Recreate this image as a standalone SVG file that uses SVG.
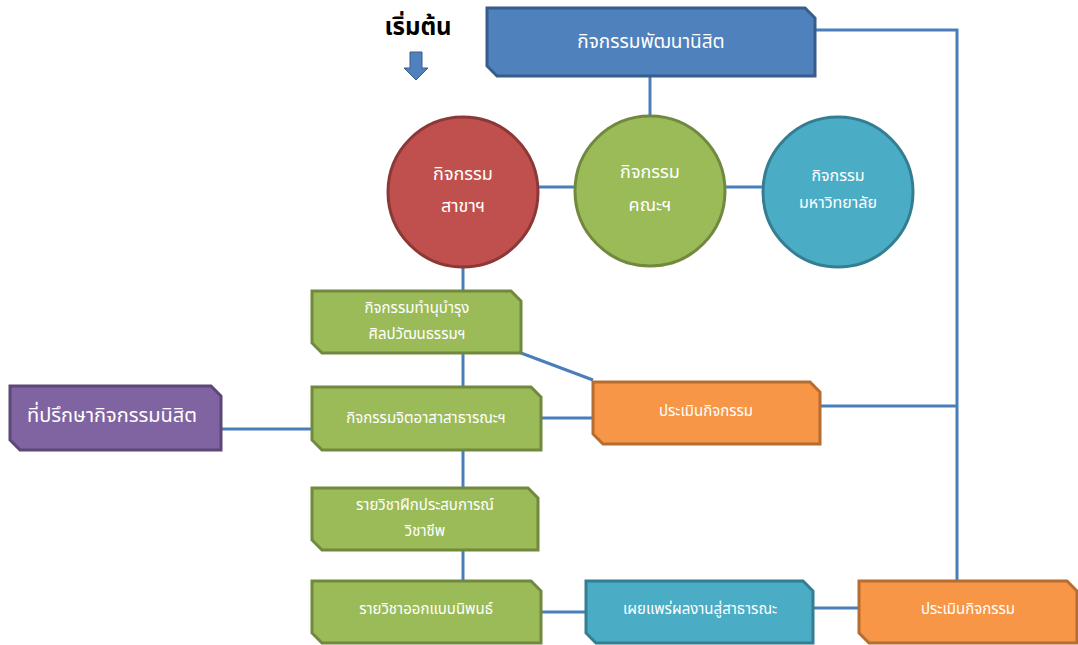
<svg xmlns="http://www.w3.org/2000/svg" width="1078" height="645" viewBox="0 0 1078 645">
<style>
text{font-family:"Noto Sans Thai","Noto Sans","DejaVu Sans",sans-serif;fill:#fff;text-anchor:middle;dominant-baseline:central}
.blue{fill:#4f81bd;stroke:#385d8a;stroke-width:3}
.green{fill:#9bbb59;stroke:#71893f;stroke-width:3}
.orange{fill:#f79646;stroke:#b66d31;stroke-width:3}
.teal{fill:#4bacc6;stroke:#357d91;stroke-width:3}
.purple{fill:#8064a2;stroke:#5c4776;stroke-width:3}
.red{fill:#c0504d;stroke:#8c3836;stroke-width:3}
.c{fill:none;stroke:#4a7ebb;stroke-width:3}
.s16{font-size:15px}
</style>
<rect width="1078" height="645" fill="#fff"/>
<g id="connectors">
<path class="c" d="M650,76V117"/>
<path class="c" d="M815,30H957V581"/>
<path class="c" d="M820,406H957"/>
<path class="c" d="M538,187H575"/>
<path class="c" d="M726,187H763"/>
<path class="c" d="M463,267V291"/>
<path class="c" d="M463,353V387"/>
<path class="c" d="M463,450V488"/>
<path class="c" d="M463,550V581"/>
<path class="c" d="M521,353L593,380"/>
<path class="c" d="M541,418H593"/>
<path class="c" d="M221,429H312"/>
<path class="c" d="M541,612H586"/>
<path class="c" d="M813,608H859"/>
</g>
<g id="start">
<text x="418" y="28" style="fill:#000;font-size:24px;font-weight:bold">เริ่มต้น</text>
<path d="M410,52H422V68H428L416,80L404,68H410Z" fill="#4f81bd" stroke="#385d8a" stroke-width="1"/>
</g>
<g id="dev"><path class="blue" d="M487,8H805L815,18V76H497L487,66Z"/><text x="651" y="42" style="font-size:19px">กิจกรรมพัฒนานิสิต</text></g>
<g id="major"><circle class="red" cx="463" cy="192" r="75"/><text x="463" y="174" style="font-size:18px">กิจกรรม</text><text x="463" y="206" style="font-size:18px">สาขาฯ</text></g>
<g id="faculty"><circle class="green" cx="650" cy="191" r="75"/><text x="650" y="172" style="font-size:18px">กิจกรรม</text><text x="650" y="205" style="font-size:18px">คณะฯ</text></g>
<g id="univ"><circle class="teal" cx="838" cy="192" r="75"/><text x="838" y="176" style="font-size:16px">กิจกรรม</text><text x="838" y="203" style="font-size:16px">มหาวิทยาลัย</text></g>
<g id="culture"><path class="green" d="M312,291H511L521,301V353H322L312,343Z"/><text class="s16" x="417" y="308">กิจกรรมทำนุบำรุง</text><text class="s16" x="417" y="334">ศิลปวัฒนธรรมฯ</text></g>
<g id="volunteer"><path class="green" d="M312,387H531L541,397V450H322L312,440Z"/><text class="s16" x="426" y="418">กิจกรรมจิตอาสาสาธารณะฯ</text></g>
<g id="advisor"><path class="purple" d="M10,386H211L221,396V450H20L10,440Z"/><text x="112" y="416" style="font-size:20px">ที่ปรึกษากิจกรรมนิสิต</text></g>
<g id="eval1"><path class="orange" d="M593,382H810L820,392V444H603L593,434Z"/><text class="s16" x="706" y="411">ประเมินกิจกรรม</text></g>
<g id="coop"><path class="green" d="M312,488H528L538,498V550H322L312,540Z"/><text class="s16" x="425" y="505">รายวิชาฝึกประสบการณ์</text><text class="s16" x="425" y="531">วิชาชีพ</text></g>
<g id="thesis"><path class="green" d="M312,581H531L541,591V643H322L312,633Z"/><text class="s16" x="426" y="609">รายวิชาออกแบบนิพนธ์</text></g>
<g id="publish"><path class="teal" d="M586,581H803L813,591V643H596L586,633Z"/><text class="s16" x="700" y="609">เผยแพร่ผลงานสู่สาธารณะ</text></g>
<g id="eval2"><path class="orange" d="M859,581H1067L1077,591V643H869L859,633Z"/><text class="s16" x="968" y="609">ประเมินกิจกรรม</text></g>
</svg>
